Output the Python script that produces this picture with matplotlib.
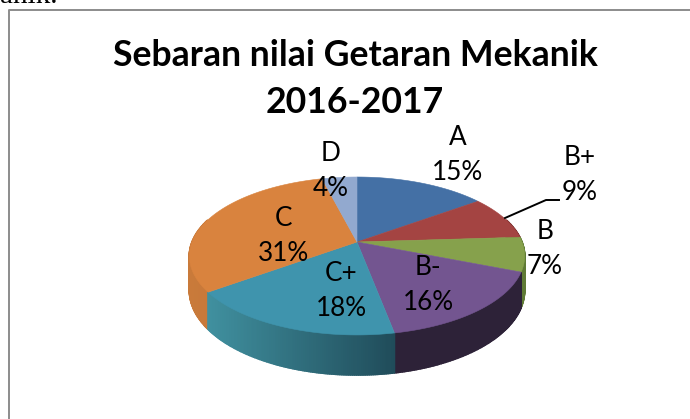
import numpy as np
import matplotlib
matplotlib.use("Agg")
import matplotlib.pyplot as plt

categories = ["A", "B+", "B", "B-", "C+", "C", "D"]
percent = [15, 9, 7, 16, 18, 31, 4]

top_colors = ["#4470a5", "#a44442", "#86a14c", "#735590", "#3f94ad", "#d9833e", "#92a9cf"]
side_left = ["#35557d", "#7c3432", "#6a8a35", "#2d2238", "#40909f", "#c97a3a", "#6f83a5"]
side_right = ["#35557d", "#7c3432", "#5f7a35", "#2d2238", "#1f4a58", "#b06a30", "#6f83a5"]

# label centres in pixels, two lines each
label_pos = [(458, 155), (580, 175), (545, 249), (428, 285), (341, 291), (284, 236), (331, 171)]

# projection of the pie disc, in pixels
cx, cy = 357, 242
b, a, p = 165, 76.5, 0.177


def project(theta):
	x = np.sin(theta)
	y = np.cos(theta)
	w = 1 + p * y
	return cx + b * x / w, cy - a * y / w, y


def mix(c1, c2, t):
	rgb1 = np.array(matplotlib.colors.to_rgb(c1))
	rgb2 = np.array(matplotlib.colors.to_rgb(c2))
	return tuple(rgb1 + (rgb2 - rgb1) * t)


fig = plt.figure(figsize=(6.9, 4.19), dpi=100)
ax = fig.add_axes([0, 0, 1, 1])
ax.set_xlim(0, 690)
ax.set_ylim(419, 0)
ax.axis("off")

edges = np.cumsum([0] + percent) / sum(percent) * 2 * np.pi

# sides first, from back to front
quads = []
for i in range(len(percent)):
	th = np.linspace(edges[i], edges[i + 1], max(percent[i] * 6, 2))
	for j in range(len(th) - 1):
		x0, y0, d0 = project(th[j])
		x1, y1, d1 = project(th[j + 1])
		if d0 > 0.3 and d1 > 0.3:
			continue
		t = (min(x0, x1) - 188) / 337.0
		if percent[i] == 18:
			t = (min(x0, x1) - 209) / (398.0 - 209)
		quads.append((d0, x0, y0, d0, x1, y1, d1, mix(side_left[i], side_right[i], np.clip(t, 0, 1))))
quads.sort(key=lambda q: -q[0])
for q in quads:
	_, x0, y0, d0, x1, y1, d1, col = q
	dz0 = 33 - 7 * d0
	dz1 = 33 - 7 * d1
	ax.fill([x0, x1, x1, x0], [y0, y1, y1 + dz1, y0 + dz0], color=col, lw=1.2, snap=False, zorder=2)

# top face
for i in range(len(percent)):
	th = np.linspace(edges[i], edges[i + 1], max(percent[i] * 6, 2))
	xs, ys, _ = project(th)
	ax.fill(np.r_[cx, xs], np.r_[cy, ys], color=top_colors[i], lw=0.4, zorder=3)

# labels
for i in range(len(categories)):
	lx, ly = label_pos[i]
	ax.text(lx, ly - 18, categories[i], fontsize=18.8, family="Lato", ha="center", va="center", color="black", zorder=5)
	ax.text(lx, ly + 17, "%d%%" % percent[i], fontsize=18.8, family="Lato", ha="center", va="center", color="black", zorder=5)

# leader line for B+
ax.plot([505, 546, 559], [218, 200, 200], color="black", lw=1.4, zorder=4)

# title
ax.text(355, 55, "Sebaran nilai Getaran Mekanik", fontsize=25.7, family="Lato", fontweight="bold", ha="center", va="center")
ax.text(355, 102, "2016-2017", fontsize=25.7, family="Lato", fontweight="bold", ha="center", va="center")

# chart frame, only top and left show up
ax.plot([8.5, 8.5, 690], [419, 10, 10], color="#8c8c8c", lw=1.4, zorder=1)

# cut off text of the page above
ax.text(0, 3, "anik.", fontsize=21, family="Liberation Serif", ha="left", va="baseline", clip_on=False)

fig.savefig("out.png", dpi=100)
